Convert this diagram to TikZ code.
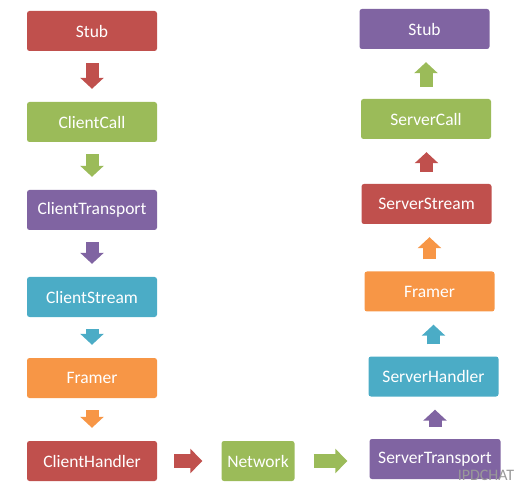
\documentclass[tikz,border=0pt]{standalone}
\usepackage{fontspec}
\setmainfont{Carlito}
\usetikzlibrary{positioning,arrows.meta}
\definecolor{boxred}{HTML}{C0504D}
\definecolor{boxgreen}{HTML}{9BBB59}
\definecolor{boxpurple}{HTML}{8064A2}
\definecolor{boxcyan}{HTML}{4BACC6}
\definecolor{boxorange}{HTML}{F79646}
\begin{document}
\begin{tikzpicture}[
  x=1pt, y=-1pt,
  node distance=86pt,
  box/.style={rectangle, rounded corners=2.5pt, fill=#1, text=white, minimum width=130pt, minimum height=40pt, inner sep=0pt, font=\fontsize{17.5}{21}\selectfont},
  arrow/.style={draw=#1, line width=13pt, -{Triangle[length=11pt, width=23pt]}, shorten <=12pt, shorten >=13pt},
  sidearrow/.style={draw=#1, line width=14pt, -{Triangle[length=12pt, width=24pt]}}
]
  \useasboundingbox (0,0) rectangle (530,494);

  % Client side
  \node[box=boxred] (cstub) at (92,31) {Stub};
  \node[box=boxgreen, below of=cstub, yshift=-5pt] (ccall) {ClientCall};
  \node[box=boxpurple, below of=ccall, yshift=-2pt] (ctransport) {ClientTransport};
  \node[box=boxcyan, below of=ctransport, yshift=-1pt] (cstream) {ClientStream};
  \node[box=boxorange, below of=cstream, yshift=5pt] (cframer) {Framer};
  \node[box=boxred, below of=cframer, yshift=3pt] (chandler) {ClientHandler};

  % Network
  \node[box=boxgreen, minimum width=73pt, right of=chandler, xshift=80pt] (network) {Network};

  % Server side
  \node[box=boxpurple, minimum width=131pt, right of=network, xshift=91pt, yshift=2pt] (stransport) {ServerTransport};
  \node[box=boxcyan, above of=stransport, xshift=-1.5pt, yshift=-3.5pt] (shandler) {ServerHandler};
  \node[box=boxorange, above of=shandler, xshift=-4pt, yshift=-1pt] (sframer) {Framer};
  \node[box=boxred, above of=sframer, xshift=-3pt, yshift=1.5pt] (sstream) {ServerStream};
  \node[box=boxgreen, above of=sstream, xshift=-0.5pt, yshift=-1pt] (scall) {ServerCall};
  \node[box=boxpurple, above of=scall, xshift=-1.5pt, yshift=4pt] (sstub) {Stub};

  % Watermark
  \node[text=gray!80, font=\fontsize{16}{18}\selectfont, inner sep=0pt] (mark) at (486,475) {IPDCHAT};

  % Flèches client
  \draw[arrow=boxred] (cstub) -- (ccall);
  \draw[arrow=boxgreen] (ccall) -- (ctransport);
  \draw[arrow=boxpurple] (ctransport) -- (cstream);
  \draw[arrow=boxcyan] (cstream) -- (cframer);
  \draw[arrow=boxorange] (cframer) -- (chandler);

  % Flèches réseau
  \draw[sidearrow=boxred, shorten <=17pt, shorten >=19pt] (chandler) -- (network);
  \draw[sidearrow=boxgreen, shorten <=19pt, shorten >=22pt] (network.east) -- (network.east -| stransport.west);

  % Flèches serveur
  \draw[arrow=boxpurple] (stransport.north) -- (stransport.north |- shandler.south);
  \draw[arrow=boxcyan] (shandler.north) -- (shandler.north |- sframer.south);
  \draw[arrow=boxorange] (sframer.north) -- (sframer.north |- sstream.south);
  \draw[arrow=boxred] (sstream.north) -- (sstream.north |- scall.south);
  \draw[arrow=boxgreen] (scall.north) -- (scall.north |- sstub.south);
\end{tikzpicture}
\end{document}
